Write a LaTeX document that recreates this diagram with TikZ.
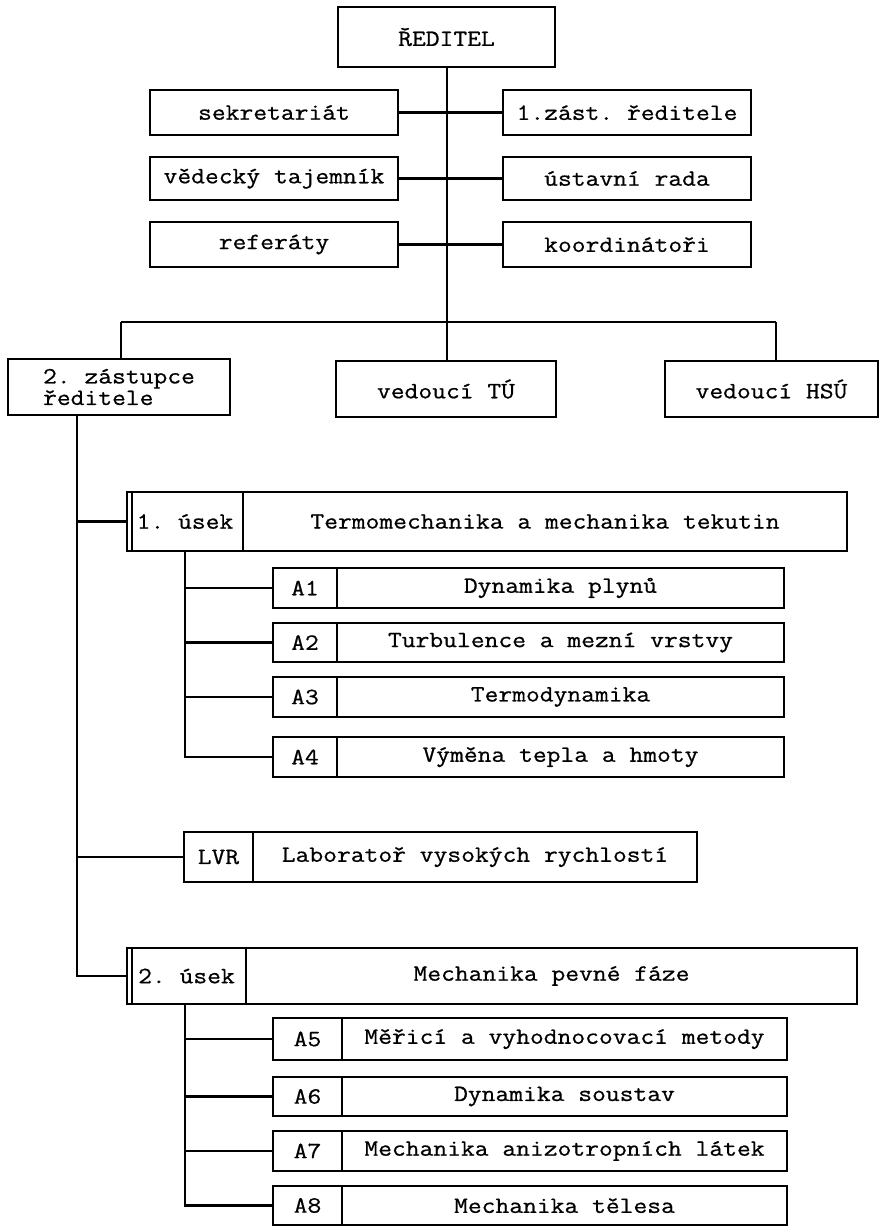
\documentclass[tikz,border=0pt]{standalone}
\usepackage{fontspec}
\setmonofont{Latin Modern Mono}[FakeStretch=1.15, FakeBold=0.7]
\begin{document}
\begin{tikzpicture}[x=1pt,y=-1pt,
  every node/.style={font=\ttfamily\fontsize{23.3}{21.5}\selectfont},
  box/.style={draw, line width=2.7pt, inner sep=0pt, outer sep=0pt, rectangle},
  conn/.style={line width=2.7pt},
  inner/.style={line width=2pt}
]
\useasboundingbox (0,0) rectangle (880,1228);
% top level
\node[box, minimum width=217pt, minimum height=60pt] (red) at (446.5,37) {ŘEDITEL};
\node[box, minimum width=248pt, minimum height=45pt] (sek) at (274,112.5) {sekretariát};
\node[box, minimum width=248pt, minimum height=45pt] (zast1) at (627,112.5) {1.zást. ředitele};
\node[box, minimum width=248pt, minimum height=43pt] (ved) at (274,178.5) {vědecký tajemník};
\node[box, minimum width=248pt, minimum height=43pt] (ust) at (627,178.5) {ústavní rada};
\node[box, minimum width=248pt, minimum height=45pt] (ref) at (274,244.5) {referáty};
\node[box, minimum width=248pt, minimum height=45pt] (koo) at (627,244.5) {koordinátoři};
\node[box, minimum width=222pt, minimum height=56pt, align=left] (zast2) at (119,387) {2. zástupce\\ředitele};
\node[box, minimum width=220pt, minimum height=56pt] (vtu) at (446,389) {vedoucí TÚ\hspace{20pt}};
\node[box, minimum width=213pt, minimum height=56pt] (hsu) at (771.5,389) {vedoucí HSÚ};
% 1. usek
\node[box, minimum width=116pt, minimum height=59pt] (us1id) at (185,521.5) {1. úsek};
\node[box, minimum width=604pt, minimum height=59pt] (us1) at (545,521.5) {Termomechanika a mechanika tekutin\hspace{12pt}};
\node[box, minimum width=64pt, minimum height=40pt] (a1id) at (305,588) {A1};
\node[box, minimum width=447pt, minimum height=40pt] (a1) at (560.5,588) {Dynamika plynů\hspace{58pt}};
\node[box, minimum width=64pt, minimum height=39pt] (a2id) at (305,642.5) {A2};
\node[box, minimum width=447pt, minimum height=39pt] (a2) at (560.5,642.5) {Turbulence a mezní vrstvy\hspace{10pt}};
\node[box, minimum width=64pt, minimum height=40pt] (a3id) at (305,697) {A3};
\node[box, minimum width=447pt, minimum height=40pt] (a3) at (560.5,697) {Termodynamika\hspace{58pt}};
\node[box, minimum width=64pt, minimum height=40pt] (a4id) at (305,757) {A4};
\node[box, minimum width=447pt, minimum height=40pt] (a4) at (560.5,757) {Výměna tepla a hmoty\hspace{24pt}};
% LVR
\node[box, minimum width=69pt, minimum height=50pt] (lvrid) at (218.5,857) {LVR};
\node[box, minimum width=444pt, minimum height=50pt] (lvr) at (475,857) {Laboratoř vysokých rychlostí\hspace{16pt}};
% 2. usek
\node[box, minimum width=119pt, minimum height=56pt] (us2id) at (186.5,976) {2. úsek};
\node[box, minimum width=611pt, minimum height=56pt] (us2) at (551.5,976) {Mechanika pevné fáze\hspace{50pt}};
\node[box, minimum width=69pt, minimum height=42pt] (a5id) at (307.5,1039) {A5};
\node[box, minimum width=445pt, minimum height=42pt] (a5) at (564.5,1039) {Měřicí a vyhodnocovací metody};
\node[box, minimum width=69pt, minimum height=39pt] (a6id) at (307.5,1096.5) {A6};
\node[box, minimum width=445pt, minimum height=39pt] (a6) at (564.5,1096.5) {Dynamika soustav\hspace{10pt}};
\node[box, minimum width=69pt, minimum height=40pt] (a7id) at (307.5,1151) {A7};
\node[box, minimum width=445pt, minimum height=40pt] (a7) at (564.5,1151) {Mechanika anizotropních látek};
\node[box, minimum width=69pt, minimum height=39pt] (a8id) at (307.5,1205.5) {A8};
\node[box, minimum width=445pt, minimum height=39pt] (a8) at (564.5,1205.5) {Mechanika tělesa};
% double left edges
\draw[inner] ([xshift=4.5pt]us1id.north west) -- ([xshift=4.5pt]us1id.south west);
\draw[inner] ([xshift=4.5pt]us2id.north west) -- ([xshift=4.5pt]us2id.south west);
% connectors
\coordinate (bar) at (447,322);
\coordinate (barL) at (121,322);
\coordinate (barR) at (776,322);
\coordinate (spine) at (77,976);
\draw[conn] (red.south -| bar) -- (bar);
\draw[conn] (sek.east) -- (zast1.west);
\draw[conn] (ved.east) -- (ust.west);
\draw[conn] (ref.east) -- (koo.west);
\draw[conn] (barL) -- (barR);
\draw[conn] (barL) -- (barL |- zast2.north);
\draw[conn] (bar) -- (bar |- vtu.north);
\draw[conn] (barR) -- (barR |- hsu.north);
\draw[conn] (spine |- zast2.south) -- (spine) -- (us2id.west);
\draw[conn] (spine |- us1id.west) -- (us1id.west);
\draw[conn] (spine |- lvrid.west) -- (lvrid.west);
\draw[conn] (us1id.south) -- (us1id.south |- a4id.west) -- (a4id.west);
\foreach \n in {a1id,a2id,a3id} \draw[conn] (us1id.south |- \n.west) -- (\n.west);
\draw[conn] (us2id.south -| us1id.south) -- (us1id.south |- a8id.west) -- (a8id.west);
\foreach \n in {a5id,a6id,a7id} \draw[conn] (us1id.south |- \n.west) -- (\n.west);
\end{tikzpicture}
\end{document}
